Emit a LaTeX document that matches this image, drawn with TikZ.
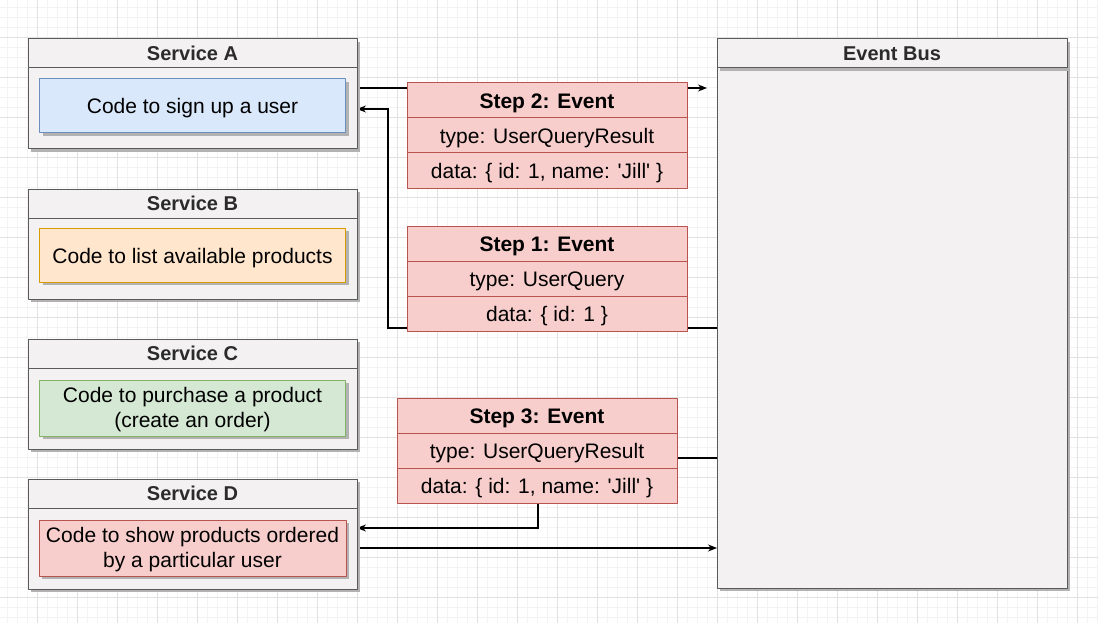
\documentclass[tikz,border=0pt]{standalone}
\usepackage{fontspec}
\setmainfont{Liberation Sans}
\usetikzlibrary{positioning,shadows,backgrounds,arrows.meta}
\definecolor{svcfill}{HTML}{F3F1F2}
\definecolor{svcline}{HTML}{5A5A5A}
\definecolor{titletext}{HTML}{2B2B2B}
\definecolor{bluefill}{HTML}{DAE8FC}
\definecolor{blueline}{HTML}{6C8EBF}
\definecolor{orangefill}{HTML}{FFE6CC}
\definecolor{orangeline}{HTML}{D79B00}
\definecolor{greenfill}{HTML}{D5E8D4}
\definecolor{greenline}{HTML}{82B366}
\definecolor{redfill}{HTML}{F8CECC}
\definecolor{redline}{HTML}{B85450}
\definecolor{gridminor}{HTML}{F3F3F3}
\definecolor{gridmajor}{HTML}{E2E2E2}
\tikzset{
  boxshadow/.style={drop shadow={shadow xshift=3pt,shadow yshift=-3pt,fill=black!30,opacity=1}},
  oneline/.style={text height=16pt, text depth=0pt},
  service/.style={draw=svcline, fill=svcfill, line width=1pt, inner sep=0pt, outer sep=0pt,
    minimum width=329pt, minimum height=110pt, anchor=north west, boxshadow},
  svchead/.style={draw=svcline, fill=svcfill, line width=1pt, inner sep=0pt, outer sep=0pt,
    minimum width=329pt, minimum height=29pt, anchor=north, text=titletext,
    text height=14.5pt, text depth=0pt, font=\fontsize{20}{24}\selectfont\bfseries},
  code/.style={line width=1pt, inner sep=0pt, outer sep=0pt, align=center,
    minimum width=306pt, minimum height=54pt, boxshadow},
  stephead/.style={draw=redline, fill=redfill, line width=1pt, inner sep=0pt, outer sep=0pt,
    minimum width=280pt, minimum height=35pt, oneline, font=\fontsize{21}{25}\selectfont\bfseries},
  steprow/.style={stephead, font=\fontsize{21}{25}\selectfont},
  link/.style={draw=black, line width=1.2pt, ->}
}
\begin{document}
\begin{tikzpicture}[x=1pt, y=-1pt, font=\fontsize{21}{25}\selectfont, line join=round,
  >={Stealth[length=9pt,width=7pt]}]
  \useasboundingbox (0,0) rectangle (1098,623);

  % services
  \node[service] (sa) at (28,39) {};
  \node[svchead] (sahead) at (sa.north) {Service A};
  \node[code, oneline, fill=bluefill, draw=blueline, below=11pt of sahead] (sacode) {Code to sign up a user};

  \node[service] (sb) at (28,189) {};
  \node[svchead] (sbhead) at (sb.north) {Service B};
  \node[code, oneline, fill=orangefill, draw=orangeline, below=10pt of sbhead] (sbcode) {Code to list available products};

  \node[service] (sc) at (28,339) {};
  \node[svchead] (schead) at (sc.north) {Service C};
  \node[code, fill=greenfill, draw=greenline, minimum height=56pt, below=12pt of schead] (sccode)
    {\rule{0pt}{19pt}Code to purchase a product\\(create an order)};

  \node[service] (sd) at (28,479) {};
  \node[svchead] (sdhead) at (sd.north) {Service D};
  \node[code, fill=redfill, draw=redline, minimum height=56pt, minimum width=307pt, below=12pt of sdhead] (sdcode)
    {\rule{0pt}{19pt}Code to show products ordered\\by a particular user};

  % event bus
  \node[service, minimum width=350pt, minimum height=549pt] (bus) at (717,39) {};
  \node[svchead, minimum width=350pt, boxshadow] (bushead) at (bus.north) {Event Bus};

  % events
  \node[stephead, anchor=north west] (s2) at (407,83) {Step 2: Event};
  \node[steprow, below=0pt of s2] (s2type) {type: UserQueryResult};
  \node[steprow, below=0pt of s2type] (s2data) {data: \{ id: 1, name: \textquotesingle Jill\textquotesingle\ \}};

  \node[stephead, anchor=north west] (s1) at (407,226) {Step 1: Event};
  \node[steprow, below=0pt of s1] (s1type) {type: UserQuery};
  \node[steprow, below=0pt of s1type] (s1data) {data: \{ id: 1 \}};

  \node[stephead, anchor=north west] (s3) at (397,398) {Step 3: Event};
  \node[steprow, below=0pt of s3] (s3type) {type: UserQueryResult};
  \node[steprow, below=0pt of s3type] (s3data) {data: \{ id: 1, name: \textquotesingle Jill\textquotesingle\ \}};

  \coordinate (aout) at ([yshift=6pt]sa.east);
  \coordinate (ain) at ([yshift=-15pt]sa.east);
  \coordinate (bend1) at (388,328);
  \coordinate (bend3) at (538,528);

  \begin{scope}[on background layer]
    \fill[white] (0,0) rectangle (1098,623);
    \foreach \g in {7,17,...,1097} \draw[gridminor] (\g,0) -- (\g,623);
    \foreach \g in {7,17,...,617} \draw[gridminor] (0,\g) -- (1098,\g);
    \foreach \g in {37,77,...,1077} \draw[gridmajor] (\g,0) -- (\g,623);
    \foreach \g in {37,77,...,597} \draw[gridmajor] (0,\g) -- (1098,\g);

    \draw[link, shorten >=10pt] (aout) -- (aout -| bus.west);
    \draw[link] (bend1 -| bus.west) -- (bend1) |- (ain);
    \draw[link] (bus.west |- 0,458) -| (bend3) -- (bend3 -| sd.east);
    \draw[link] (sd.east |- 0,548) -- (bus.west |- 0,548);
  \end{scope}
\end{tikzpicture}
\end{document}
